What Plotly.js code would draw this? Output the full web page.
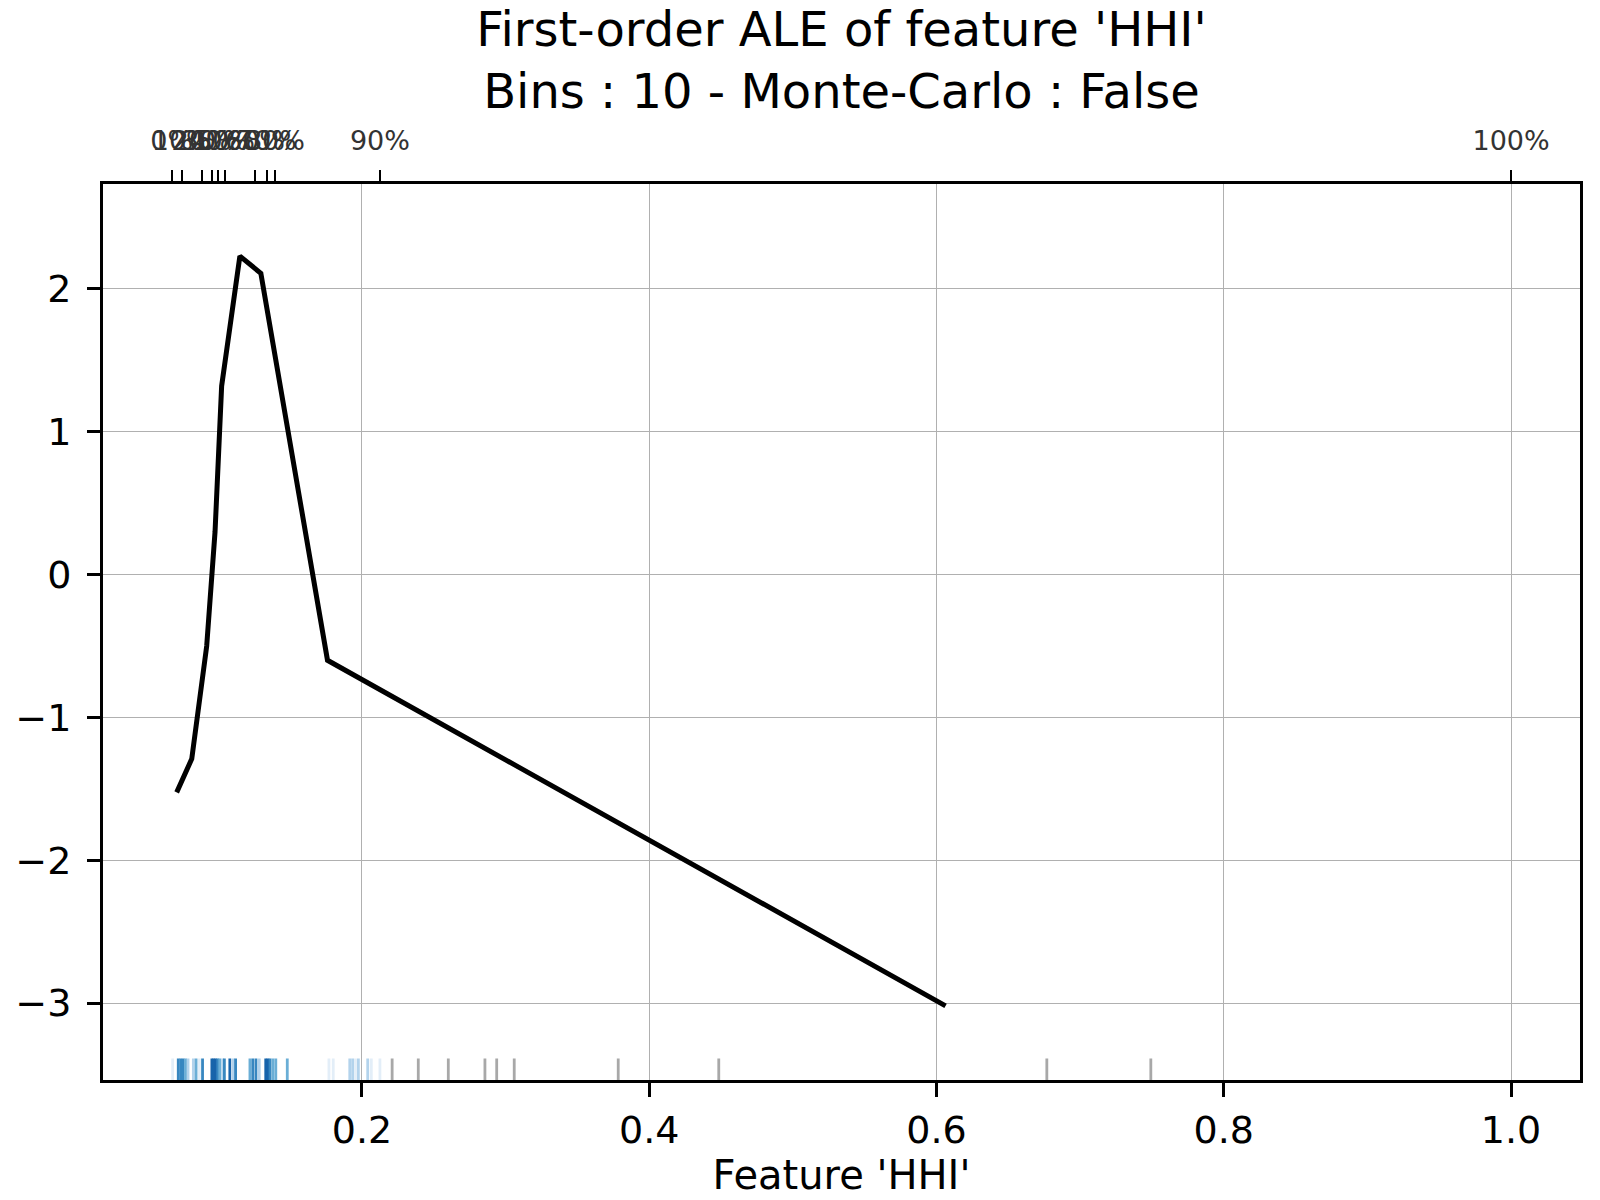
<!DOCTYPE html>
<html>
<head>
<meta charset="utf-8">
<script src="https://cdn.plot.ly/plotly-3.0.1.min.js"></script>
<style>
  body { margin: 0; background: #fff; }
  #chart { width: 1600px; height: 1200px; }
</style>
</head>
<body>
<div id="chart"></div>
<script>
// quantile edges of HHI (top axis) and their labels
const quantileEdges = [0.0675, 0.0745, 0.0884, 0.0954, 0.1000, 0.1046, 0.1255, 0.1337, 0.1394, 0.2125, 1.0];
const quantileLabels = ['0%', '10%', '20%', '30%', '40%', '50%', '60%', '70%', '80%', '90%', '100%'];

// ALE curve, one value per bin centre
const binCenters = [0.0710, 0.0815, 0.0919, 0.0977, 0.1023, 0.1150, 0.1296, 0.1366, 0.1760, 0.6063];
const aleValues = [-1.525, -1.29, -0.50, 0.30, 1.32, 2.23, 2.11, 1.70, -0.60, -3.02];

// rug of observed HHI values and how dense they are (0 = sparse .. 5 = dense)
const rugValues = [0.0682, 0.0721, 0.0738, 0.0755, 0.0772, 0.0789, 0.0826, 0.0845, 0.0868, 0.0890,
  0.0955, 0.0968, 0.0982, 0.0996, 0.1010, 0.1030, 0.1042, 0.1080, 0.1104, 0.1120,
  0.1220, 0.1240, 0.1262, 0.1285, 0.1330, 0.1345, 0.1360, 0.1380, 0.1400, 0.1480,
  0.1770, 0.1800, 0.1915, 0.1935, 0.1955, 0.1975, 0.2040, 0.2065, 0.2125, 0.2210,
  0.2392, 0.2601, 0.2856, 0.2938, 0.3060, 0.3784, 0.4484, 0.6768, 0.7492];
const rugDensity = [1, 4, 4, 4, 3, 2, 2, 3, 1, 4,
  5, 5, 5, 4, 3, 2, 4, 5, 2, 4,
  3, 4, 4, 2, 5, 5, 4, 3, 3, 3,
  1, 1, 2, 2, 1, 2, 2, 1, 1, 0,
  0, 0, 0, 0, 0, 0, 0, 0, 0];

const rugPalette = ['#a8a8a8', '#e3eef8', '#b3d3ec', '#6aaed6', '#3787c0', '#1764ab'];

const font = 'DejaVu Sans, Liberation Sans, sans-serif';

const rugShapes = rugValues.map((v, i) => ({
  type: 'line', xref: 'x', yref: 'y domain',
  x0: v, x1: v, y0: 0, y1: 0.024,
  line: { color: rugPalette[rugDensity[i]], width: 2.8 },
  layer: 'above'
}));

const traces = [
  {
    x: binCenters, y: aleValues,
    type: 'scatter', mode: 'lines',
    line: { color: '#000', width: 5 },
    hoverinfo: 'x+y', showlegend: false
  },
  {
    // keeps the quantile axis alive
    x: quantileEdges, y: quantileEdges.map(() => null),
    xaxis: 'x2', type: 'scatter', mode: 'markers',
    marker: { opacity: 0 }, hoverinfo: 'skip', showlegend: false
  }
];

const layout = {
  width: 1600, height: 1200, autosize: false,
  paper_bgcolor: '#fff', plot_bgcolor: '#fff',
  margin: { l: 103, r: 20, t: 184, b: 120 },
  font: { family: font, color: '#000' },
  title: {
    text: "First-order ALE of feature 'HHI'<br>Bins : 10 - Monte-Carlo : False",
    font: { family: font, size: 48, color: '#000' },
    x: 0.5, xref: 'paper', xanchor: 'center',
    y: 0.962, yref: 'container', yanchor: 'middle'
  },
  xaxis: {
    range: [0.0197, 1.048],
    tickvals: [0.2, 0.4, 0.6, 0.8, 1.0], tickformat: '.1f',
    showgrid: true, gridcolor: '#b0b0b0', gridwidth: 1,
    zeroline: false,
    showline: true, linecolor: '#000', linewidth: 3, mirror: true,
    ticks: 'outside', ticklen: 14, tickwidth: 3, tickcolor: '#000',
    tickfont: { family: font, size: 38, color: '#000' },
    ticklabelstandoff: 0,
    title: { text: "Feature 'HHI'", font: { family: font, size: 40, color: '#000' }, standoff: 8 }
  },
  xaxis2: {
    overlaying: 'x', side: 'top', anchor: 'y',
    range: [0.0197, 1.048],
    tickvals: quantileEdges, ticktext: quantileLabels, tickangle: 0,
    showgrid: false, zeroline: false, showline: false,
    ticks: 'outside', ticklen: 13, tickwidth: 2, tickcolor: '#000',
    tickfont: { family: font, size: 27, color: '#333' },
    ticklabelstandoff: 9
  },
  yaxis: {
    range: [-3.539, 2.735],
    tickvals: [-3, -2, -1, 0, 1, 2],
    showgrid: true, gridcolor: '#b0b0b0', gridwidth: 1,
    zeroline: false,
    showline: true, linecolor: '#000', linewidth: 3, mirror: true,
    ticks: 'outside', ticklen: 13, tickwidth: 3, tickcolor: '#000',
    tickfont: { family: font, size: 38, color: '#000' },
    ticklabelstandoff: 8
  },
  shapes: rugShapes
};

Plotly.newPlot('chart', traces, layout, { displayModeBar: false, staticPlot: true });
</script>
</body>
</html>
